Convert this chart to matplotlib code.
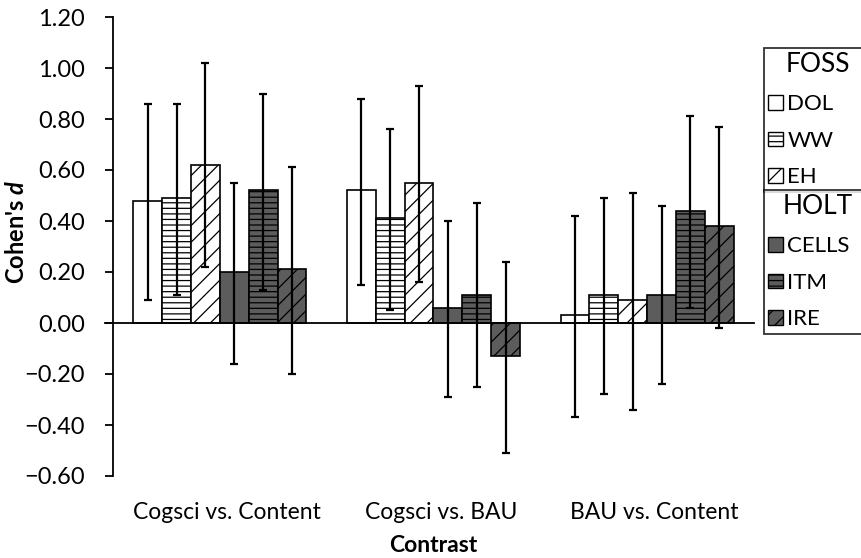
import numpy as np
import matplotlib
matplotlib.use("Agg")
import matplotlib.pyplot as plt
import matplotlib.transforms as mtransforms
from matplotlib.patches import Patch

plt.rcParams["font.family"] = ["Lato", "DejaVu Sans"]
plt.rcParams["mathtext.fontset"] = "custom"
plt.rcParams["mathtext.it"] = "Lato:italic:bold"
plt.rcParams["hatch.linewidth"] = 0.9

# ---------- Data ----------
contrasts = ["Cogsci vs. Content", "Cogsci vs. BAU", "BAU vs. Content"]
series = ["DOL", "WW", "EH", "CELLS", "ITM", "IRE"]

dol = [0.48, 0.52, 0.03]
ww = [0.49, 0.41, 0.11]
eh = [0.62, 0.55, 0.09]
cells = [0.20, 0.06, 0.11]
itm = [0.52, 0.11, 0.44]
ire = [0.21, -0.13, 0.38]

# confidence interval bounds (lower, upper)
dol_ci = ([0.09, 0.15, -0.37], [0.86, 0.88, 0.42])
ww_ci = ([0.11, 0.05, -0.28], [0.86, 0.76, 0.49])
eh_ci = ([0.22, 0.16, -0.34], [1.02, 0.93, 0.51])
cells_ci = ([-0.16, -0.29, -0.24], [0.55, 0.40, 0.46])
itm_ci = ([0.13, -0.25, 0.06], [0.90, 0.47, 0.81])
ire_ci = ([-0.20, -0.51, -0.02], [0.61, 0.24, 0.77])

values = [dol, ww, eh, cells, itm, ire]
cis = [dol_ci, ww_ci, eh_ci, cells_ci, itm_ci, ire_ci]

# ---------- Styles ----------
DARK = "#5c5c5c"
fills = ["white", "white", "white", DARK, DARK, DARK]
hatches = [None, "---", "//", None, "---", "//"]

W, H = 862, 558
fig = plt.figure(figsize=(W / 100, H / 100), dpi=100)
ax = fig.add_axes([113 / W, (H - 476) / H, (754 - 113) / W, (476 - 17) / H])

x = np.arange(len(contrasts))
bw = 0.135
offsets = (np.arange(len(series)) - 2.5) * bw

for i, name in enumerate(series):
    ax.bar(x + offsets[i], values[i], width=bw, color=fills[i], edgecolor="black",
           linewidth=1.2, hatch=hatches[i], zorder=2)
for i, name in enumerate(series):
    v = np.array(values[i])
    lo, hi = np.array(cis[i][0]), np.array(cis[i][1])
    ax.errorbar(x + offsets[i], v, yerr=[v - lo, hi - v], fmt="none",
                ecolor="black", elinewidth=1.6, capsize=3, capthick=1.6, zorder=3)

yt = np.arange(-0.6, 1.21, 0.2)
ax.set_xlim(-0.5, 2.5)
ax.set_ylim(-0.6, 1.2)
ax.set_yticks(yt)
ax.set_yticklabels([f"{t:.2f}".replace("-", "\u2212") for t in yt])
ax.set_xticks(x)
ax.set_xticklabels(contrasts)

for s in ["top", "right", "bottom"]:
    ax.spines[s].set_visible(False)
ax.spines["left"].set_linewidth(1.3)
ax.axhline(0, xmin=-0.013, xmax=1, color="black", linewidth=1.3, clip_on=False, zorder=4)

ax.tick_params(axis="y", length=6, width=1.3, pad=14, labelsize=17)
ax.tick_params(axis="x", length=0, pad=19, labelsize=16.5)

# category labels sit a little right of the group centres in the original
shift = mtransforms.ScaledTranslation(0.075, 0, fig.dpi_scale_trans)
for lab in ax.get_xticklabels():
    lab.set_transform(lab.get_transform() + shift)

fig.text(17 / W, 1 - 232 / H, r"Cohen's $d$", rotation=90, ha="center", va="center",
         fontsize=17, fontweight="bold")
fig.text(433 / W, 1 - 545 / H, "Contrast", ha="center", va="center",
         fontsize=16.5, fontweight="bold")

# ---------- Legends ----------
def make_legend(title, idx, top):
    handles = [Patch(facecolor=fills[i], edgecolor="black", hatch=hatches[i], linewidth=1.0)
               for i in idx]
    labels = [series[i] for i in idx]
    leg = fig.legend(handles, labels, title=title, loc="upper left",
                     bbox_to_anchor=(764 / W, 1 - top / H - 0.01, 108 / W, 0.01),
                     mode="expand", frameon=True, fancybox=False, fontsize=16,
                     title_fontsize=19, handlelength=0.65, handleheight=0.65,
                     handletextpad=0.2, labelspacing=0.75, borderpad=0.2,
                     borderaxespad=0)
    leg.get_frame().set_edgecolor("black")
    leg.get_frame().set_linewidth(1.3)
    return leg

leg1 = make_legend("FOSS", [0, 1, 2], 48)
leg2 = make_legend("HOLT", [3, 4, 5], 190)

fig.savefig("out.png", dpi=100)
